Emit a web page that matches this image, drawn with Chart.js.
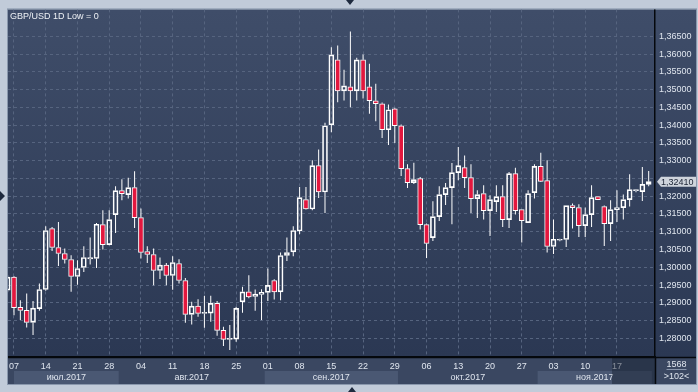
<!DOCTYPE html>
<html>
<head>
<meta charset="utf-8">
<title>GBP/USD 1D</title>
<script src="https://cdn.jsdelivr.net/npm/chart.js@4.4.1/dist/chart.umd.min.js"></script>
<style>
  html, body { margin: 0; padding: 0; background: #c1cbd9; }
  #wrap { width: 698px; height: 392px; }
</style>
</head>
<body>
<div id="wrap"><canvas id="chart" width="698" height="392"></canvas></div>
<script>
// trading days shown on the chart (dd.mm, 2017)
const dates = [
  '06.07', '07.07',
  '10.07', '11.07', '12.07', '13.07', '14.07',
  '17.07', '18.07', '19.07', '20.07', '21.07',
  '24.07', '25.07', '26.07', '27.07', '28.07',
  '31.07', '01.08', '02.08', '03.08', '04.08',
  '07.08', '08.08', '09.08', '10.08', '11.08',
  '14.08', '15.08', '16.08', '17.08', '18.08',
  '21.08', '22.08', '23.08', '24.08', '25.08',
  '28.08', '29.08', '30.08', '31.08', '01.09',
  '04.09', '05.09', '06.09', '07.09', '08.09',
  '11.09', '12.09', '13.09', '14.09', '15.09',
  '18.09', '19.09', '20.09', '21.09', '22.09',
  '25.09', '26.09', '27.09', '28.09', '29.09',
  '02.10', '03.10', '04.10', '05.10', '06.10',
  '09.10', '10.10', '11.10', '12.10', '13.10',
  '16.10', '17.10', '18.10', '19.10', '20.10',
  '23.10', '24.10', '25.10', '26.10', '27.10',
  '30.10', '31.10', '01.11', '02.11', '03.11',
  '06.11', '07.11', '08.11', '09.11', '10.11',
  '13.11', '14.11', '15.11', '16.11', '17.11',
  '20.11', '21.11', '22.11', '23.11', '24.11'
];

const opens = [
  1.29357, 1.29722, 1.28871, 1.28787, 1.28449, 1.28837, 1.29376, 1.3109, 1.30556, 1.30388,
  1.30219, 1.29742, 1.29994, 1.30236, 1.30247, 1.31202, 1.3064, 1.31483, 1.32157, 1.32045,
  1.32242, 1.31399, 1.30444, 1.3036, 1.2991, 1.30059, 1.2977, 1.30107, 1.29629, 1.28674,
  1.28907, 1.28702, 1.28711, 1.28983, 1.28225, 1.27972, 1.2798, 1.29028, 1.29309, 1.2918,
  1.29236, 1.29292, 1.29629, 1.29309, 1.30331, 1.30433, 1.31022, 1.31905, 1.31641, 1.3286,
  1.32118, 1.34011, 1.35837, 1.34966, 1.35079, 1.34966, 1.35837, 1.35079, 1.34685, 1.34601,
  1.33871, 1.34461, 1.33983, 1.32775, 1.32382, 1.32494, 1.31202, 1.30837, 1.31427, 1.32045,
  1.32242, 1.32663, 1.32803, 1.32522, 1.31933, 1.32073, 1.31596, 1.31848, 1.31989, 1.31343,
  1.32635, 1.31624, 1.31258, 1.32101, 1.3284, 1.32438, 1.30584, 1.30761, 1.30781, 1.31736,
  1.3168, 1.31174, 1.31483, 1.31989, 1.31708, 1.3123, 1.31624, 1.3168, 1.31905, 1.32157,
  1.32129, 1.32334
];
const highs = [
  1.29778, 1.2975, 1.29076, 1.29264, 1.29048, 1.29545, 1.31155, 1.31135, 1.31275, 1.30528,
  1.3034, 1.302, 1.30593, 1.30837, 1.31247, 1.31604, 1.31604, 1.32278, 1.32475, 1.32522,
  1.327, 1.31652, 1.30593, 1.30528, 1.30275, 1.30124, 1.30312, 1.30228, 1.29702, 1.29028,
  1.29104, 1.29197, 1.29197, 1.29048, 1.28326, 1.28374, 1.28888, 1.29449, 1.29778, 1.29376,
  1.29385, 1.29966, 1.29666, 1.30416, 1.30837, 1.31155, 1.32258, 1.32258, 1.33009, 1.33317,
  1.34067, 1.36191, 1.36239, 1.35556, 1.36632, 1.35893, 1.35986, 1.35725, 1.35163, 1.34638,
  1.34582, 1.34489, 1.3402, 1.32896, 1.32944, 1.32539, 1.3123, 1.31857, 1.32278, 1.32371,
  1.32933, 1.33382, 1.33149, 1.32896, 1.32166, 1.32306, 1.32025, 1.32306, 1.32306, 1.3268,
  1.32803, 1.31624, 1.32166, 1.32896, 1.33225, 1.33009, 1.31343, 1.30803, 1.31736, 1.31792,
  1.31773, 1.3168, 1.32306, 1.31989, 1.31736, 1.31885, 1.32166, 1.32045, 1.32615, 1.32194,
  1.3282, 1.32708
];
const lows = [
  1.29301, 1.28654, 1.28514, 1.28303, 1.28093, 1.28775, 1.29337, 1.30461, 1.30039, 1.30107,
  1.29309, 1.29506, 1.29871, 1.30079, 1.29983, 1.305, 1.30621, 1.30966, 1.31885, 1.31933,
  1.31107, 1.30247, 1.30124, 1.29497, 1.29674, 1.29497, 1.29365, 1.29545, 1.28438, 1.28393,
  1.28607, 1.28298, 1.28466, 1.28073, 1.27784, 1.27671, 1.27905, 1.28719, 1.29132, 1.28775,
  1.28514, 1.29048, 1.29096, 1.29076, 1.3018, 1.30312, 1.3093, 1.31624, 1.31604, 1.3195,
  1.31528, 1.33803, 1.34646, 1.34694, 1.34506, 1.34694, 1.3475, 1.3432, 1.34112, 1.33635,
  1.33438, 1.33494, 1.32567, 1.3223, 1.32343, 1.31062, 1.30264, 1.30742, 1.31303, 1.31753,
  1.31211, 1.32447, 1.3223, 1.31528, 1.31388, 1.31343, 1.30882, 1.31556, 1.31135, 1.31107,
  1.31483, 1.30697, 1.31258, 1.31933, 1.32399, 1.30416, 1.30376, 1.30733, 1.30573, 1.3109,
  1.30854, 1.30854, 1.31135, 1.31905, 1.30601, 1.30742, 1.31275, 1.31343, 1.31708, 1.3211,
  1.31865, 1.32278
];
const closes = [
  1.29722, 1.28865, 1.28787, 1.28449, 1.28851, 1.29376, 1.31034, 1.30556, 1.30388, 1.30219,
  1.29742, 1.29966, 1.30275, 1.30275, 1.31211, 1.3064, 1.31343, 1.32157, 1.32073, 1.32242,
  1.31399, 1.30416, 1.3036, 1.2991, 1.30059, 1.2977, 1.30135, 1.29629, 1.28674, 1.28907,
  1.28702, 1.2873, 1.28983, 1.28225, 1.27972, 1.28, 1.28843, 1.29309, 1.29169, 1.29244,
  1.29292, 1.29489, 1.29309, 1.30331, 1.30416, 1.31034, 1.31961, 1.31641, 1.3286, 1.32118,
  1.33983, 1.35978, 1.34966, 1.35107, 1.34966, 1.35837, 1.34966, 1.34685, 1.34601, 1.33871,
  1.34433, 1.33983, 1.32775, 1.32382, 1.32466, 1.31202, 1.30669, 1.31427, 1.32045, 1.32242,
  1.32663, 1.3286, 1.32522, 1.31933, 1.32045, 1.31596, 1.31905, 1.31989, 1.31343, 1.32635,
  1.31596, 1.31315, 1.32073, 1.3284, 1.32419, 1.30584, 1.30789, 1.30789, 1.31736, 1.3168,
  1.31174, 1.31483, 1.31961, 1.31905, 1.3123, 1.31624, 1.3168, 1.31905, 1.32185, 1.32185,
  1.32334, 1.3241
];

// weekly ticks (fridays) and month names for the lower band
const tickIdx = [1, 6, 11, 16, 21, 26, 31, 36, 41, 46, 51, 56, 61, 66, 71, 76, 81, 86, 91, 96];
const monthNames = { '07': 'июл.2017', '08': 'авг.2017', '09': 'сен.2017', '10': 'окт.2017', '11': 'ноя.2017' };
const lastPrice = 1.32410;
const title = 'GBP/USD 1D Low = 0';
const barsCount = '1568';
const visibleCount = '>102<';

const RED = '#e3173e';
const WHITE = '#ffffff';
const GRID = '#56647f';
const TEXT = '#dfe5ee';
const FONT = '"Liberation Sans", Arial, sans-serif';

Chart.defaults.font.family = FONT;
Chart.defaults.font.size = 9;

// build candle pieces
const bodies = opens.map((o, i) => ({ x: i, y: [o, closes[i]] }));
const upperWicks = opens.map((o, i) => ({ x: i, y: [Math.max(o, closes[i]), highs[i]] }));
const lowerWicks = opens.map((o, i) => ({ x: i, y: [lows[i], Math.min(o, closes[i])] }));
const bodyFill = opens.map((o, i) => closes[i] < o ? RED : 'rgba(0,0,0,0)');

const fmt = v => v.toFixed(5).replace('.', ',');

const framePlugin = {
  id: 'frame',
  beforeDraw(chart) {
    const { ctx, chartArea: a, scales: { x, y } } = chart;
    ctx.save();
    ctx.fillStyle = '#c1cbd9';
    ctx.fillRect(0, 0, chart.width, chart.height);

    const g = ctx.createLinearGradient(0, a.top, 0, a.bottom);
    g.addColorStop(0, '#3f4d69');
    g.addColorStop(1, '#2b3853');
    ctx.fillStyle = g;
    ctx.fillRect(a.left, a.top, y.right - a.left, a.bottom - a.top);
    ctx.fillStyle = '#3a4761';
    ctx.fillRect(a.left, a.bottom, y.right - a.left, x.bottom - a.bottom);

    // month bands
    const groups = [];
    dates.forEach((d, i) => {
      const m = d.slice(3);
      if (!groups.length || groups[groups.length - 1].m !== m) groups.push({ m, first: i, last: i });
      else groups[groups.length - 1].last = i;
    });
    ctx.font = '9px ' + FONT;
    ctx.textAlign = 'center';
    ctx.textBaseline = 'middle';
    groups.forEach((gr, k) => {
      const x0 = Math.max(a.left + 6, x.getPixelForValue(gr.first - 0.5));
      const x1 = Math.min(a.right, x.getPixelForValue(gr.last + 0.5));
      if (k % 2 === 0) {
        ctx.fillStyle = '#4a5873';
        ctx.fillRect(x0, a.bottom + 14, x1 - x0, 13);
      }
      ctx.fillStyle = TEXT;
      ctx.fillText(monthNames[gr.m], (x0 + x1) / 2, a.bottom + 21);
    });
    ctx.restore();
  },
  afterDraw(chart) {
    const { ctx, chartArea: a, scales: { x, y } } = chart;
    ctx.save();
    // current week shade on the date row
    ctx.fillStyle = 'rgba(22,30,46,0.45)';
    ctx.fillRect(612, a.bottom + 1, a.right - 612, x.bottom - a.bottom - 1);

    // corner box
    ctx.fillStyle = '#3a4761';
    ctx.fillRect(a.right, a.bottom, y.right - a.right, x.bottom - a.bottom);
    ctx.strokeStyle = '#05080d';
    ctx.lineWidth = 1.5;
    ctx.beginPath();
    ctx.moveTo(a.right + 0.5, a.bottom);
    ctx.lineTo(a.right + 0.5, x.bottom);
    ctx.moveTo(a.left, a.bottom + 0.5);
    ctx.lineTo(y.right, a.bottom + 0.5);
    ctx.stroke();
    const cx = (a.right + y.right) / 2 + 1;
    ctx.font = '9px ' + FONT;
    ctx.textAlign = 'center';
    ctx.textBaseline = 'middle';
    ctx.fillStyle = TEXT;
    ctx.fillText(barsCount, cx, a.bottom + 7.5);
    ctx.fillText(visibleCount, cx, a.bottom + 20);
    ctx.strokeStyle = '#8a97ad';
    ctx.lineWidth = 1;
    ctx.beginPath();
    ctx.moveTo(cx - 10, a.bottom + 12.5);
    ctx.lineTo(cx + 10, a.bottom + 12.5);
    ctx.stroke();

    // last price tag
    const py = y.getPixelForValue(lastPrice);
    ctx.fillStyle = '#cfd4dc';
    ctx.beginPath();
    ctx.moveTo(a.right + 2, py);
    ctx.lineTo(a.right + 6, py - 5);
    ctx.lineTo(y.right, py - 5);
    ctx.lineTo(y.right, py + 5);
    ctx.lineTo(a.right + 6, py + 5);
    ctx.closePath();
    ctx.fill();
    ctx.fillStyle = '#1a2233';
    ctx.textAlign = 'left';
    ctx.fillText(fmt(lastPrice), a.right + 6, py + 0.5);

    // title
    ctx.fillStyle = '#eef1f5';
    ctx.fillText(title, a.left + 2, a.top + 7);

    // panel outline and small markers
    ctx.strokeStyle = '#8a98ad';
    ctx.lineWidth = 1;
    ctx.strokeRect(a.left - 0.5, a.top - 0.5, y.right - a.left + 1, x.bottom - a.top + 1);
    ctx.fillStyle = '#1e2a3e';
    ctx.beginPath();
    ctx.moveTo(346, 0); ctx.lineTo(354, 0); ctx.lineTo(350, 5); ctx.closePath();
    ctx.moveTo(348, 392); ctx.lineTo(356, 392); ctx.lineTo(352, 387); ctx.closePath();
    ctx.moveTo(0, 191); ctx.lineTo(0, 201); ctx.lineTo(5, 196); ctx.closePath();
    ctx.fill();
    ctx.restore();
  }
};

new Chart(document.getElementById('chart'), {
  type: 'bar',
  data: {
    datasets: [
      {
        label: 'body',
        data: bodies,
        backgroundColor: bodyFill,
        borderColor: WHITE,
        borderWidth: 1,
        borderSkipped: false,
        barThickness: 5,
        grouped: false
      },
      {
        label: 'upper wick',
        data: upperWicks,
        backgroundColor: WHITE,
        borderWidth: 0,
        barThickness: 1,
        inflateAmount: 0,
        grouped: false
      },
      {
        label: 'lower wick',
        data: lowerWicks,
        backgroundColor: WHITE,
        borderWidth: 0,
        barThickness: 1,
        inflateAmount: 0,
        grouped: false
      }
    ]
  },
  options: {
    responsive: false,
    animation: false,
    layout: { padding: { left: 8, top: 8, right: 2, bottom: 8 } },
    plugins: { legend: { display: false }, tooltip: { enabled: false } },
    scales: {
      x: {
        type: 'linear',
        position: 'bottom',
        offset: false,
        min: 0.055,
        max: 101.995,
        afterBuildTicks: ax => { ax.ticks = tickIdx.map(v => ({ value: v })); },
        afterFit: s => { s.height = 27; },
        ticks: {
          autoSkip: false,
          maxRotation: 0,
          padding: 4,
          color: TEXT,
          callback: v => dates[v] ? dates[v].slice(0, 2) : null
        },
        grid: { color: GRID, drawTicks: false, offset: false },
        border: { color: '#05080d', width: 1.5, dash: [3, 3] }
      },
      y: {
        type: 'linear',
        position: 'right',
        min: 1.274757,
        max: 1.372567,
        afterFit: s => { s.width = 41; },
        ticks: {
          stepSize: 0.005,
          includeBounds: false,
          autoSkip: false,
          padding: 4,
          color: TEXT,
          callback: v => {
            const r = Math.round(v * 1000);
            if (r < 1280 || r > 1365) return null;
            if (Math.abs(v - lastPrice) < 0.002) return '';
            return fmt(v);
          }
        },
        grid: { color: GRID, drawTicks: false },
        border: { color: '#05080d', width: 1.5, dash: [3, 3] }
      }
    }
  },
  plugins: [framePlugin]
});
</script>
</body>
</html>
